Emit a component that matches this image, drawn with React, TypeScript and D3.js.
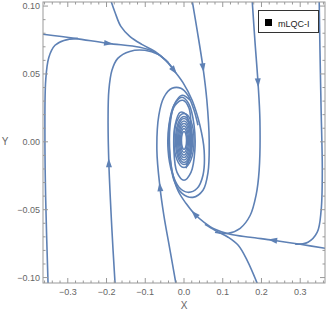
import React from 'react';
import * as d3 from 'd3';

type Pt = [number, number];

// streamlines traced from the phase portrait (x, y in data units)
const streamA: Pt[] = [
  [-0.364, 0.0792], [-0.282, 0.0762], [-0.196, 0.0725], [-0.114, 0.0696], [-0.075, 0.0659],
  [-0.047, 0.06], [-0.026, 0.0527], [-0.003, 0.0438], [0.021, 0.0306], [0.041, 0.0122],
  [0.052, -0.0063], [0.049, -0.0246], [0.034, -0.0342], [0.01, -0.0372], [-0.013, -0.0335],
  [-0.031, -0.0225], [-0.041, -0.0063], [-0.039, 0.0122], [-0.026, 0.0269], [-0.005, 0.0328],
  [0.013, 0.0276], [0.026, 0.0122], [0.028, -0.0063], [0.018, -0.0225], [0, -0.0283],
  [-0.018, -0.0225], [-0.026, -0.0063], [-0.023, 0.0122], [-0.01, 0.0217], [0.005, 0.0203],
  [0.016, 0.0085], [0.016, -0.0099], [0.005, -0.0195]
];
const streamB: Pt[] = [
  [-0.189, 0.1042], [-0.178, 0.0953], [-0.163, 0.085], [-0.14, 0.0777], [-0.109, 0.0718],
  [-0.075, 0.0666], [-0.047, 0.06], [-0.031, 0.0549]
];
const streamH: Pt[] = [
  [-0.178, -0.1042], [-0.186, -0.0652], [-0.194, -0.0158], [-0.196, 0.0158], [-0.194, 0.0379],
  [-0.186, 0.0527], [-0.171, 0.0615], [-0.14, 0.0666], [-0.101, 0.0674], [-0.067, 0.0644],
  [-0.041, 0.0585]
];
const streamI: Pt[] = [
  [-0.351, -0.1042], [-0.357, -0.0431], [-0.359, 0.0011], [-0.357, 0.0453], [-0.349, 0.0622],
  [-0.333, 0.0711], [-0.31, 0.0747], [-0.274, 0.0762]
];
const streamC: Pt[] = [
  [0.021, 0.1042], [0.034, 0.0821], [0.049, 0.0549], [0.059, 0.0306], [0.065, 0.0011],
  [0.062, -0.0225], [0.049, -0.0357], [0.023, -0.0409], [-0.005, -0.0379], [-0.026, -0.0283],
  [-0.036, -0.0099], [-0.036, 0.0122], [-0.026, 0.0269], [-0.005, 0.0343], [0.016, 0.0306]
];
const streamK: Pt[] = [
  [-0.021, -0.1042], [-0.036, -0.0799], [-0.052, -0.0541], [-0.062, -0.0335], [-0.07, -0.0063],
  [-0.065, 0.0195], [-0.052, 0.0328], [-0.031, 0.0394], [-0.008, 0.0394], [0.01, 0.0343],
  [0.026, 0.0232], [0.036, 0.0122]
];
const streamF: Pt[] = [
  [0.364, -0.0784], [0.3, -0.0755], [0.23, -0.0725], [0.171, -0.0703], [0.119, -0.0681],
  [0.08, -0.0644], [0.052, -0.0593], [0.028, -0.0534], [0.005, -0.0453], [-0.016, -0.0357],
  [-0.031, -0.021], [-0.039, -0.0026], [-0.036, 0.0158], [-0.023, 0.0269], [-0.003, 0.0306],
  [0.013, 0.0247], [0.018, 0.0085], [0.016, -0.0099], [0.005, -0.0173]
];
const streamE: Pt[] = [
  [0.349, 0.1042], [0.351, 0.0674], [0.354, 0.0232], [0.357, -0.021], [0.354, -0.0505],
  [0.344, -0.0666], [0.32, -0.074], [0.287, -0.0755]
];
const streamD: Pt[] = [
  [0.176, 0.1042], [0.183, 0.0747], [0.191, 0.0438], [0.196, 0.0158], [0.194, -0.021],
  [0.186, -0.0394], [0.171, -0.0541], [0.145, -0.0637], [0.114, -0.0674], [0.08, -0.0666]
];
const streamG: Pt[] = [
  [0.189, -0.1042], [0.163, -0.0873], [0.14, -0.0762], [0.114, -0.0703], [0.08, -0.0652],
  [0.054, -0.0608]
];

const streams = [streamA, streamB, streamH, streamI, streamC, streamK, streamF, streamE, streamD, streamG];

// [stream, point index] where an arrow head sits
const arrowSpots: [number, number][] = [
  [0, 2], [0, 6], [2, 2], [4, 2], [5, 3], [6, 2], [6, 7], [8, 2]
];

// tight cycles around the focus: [half width, half height]
const centerRings: Pt[] = [
  [0.0065, 0.0066], [0.009, 0.0088], [0.0116, 0.0107], [0.0142, 0.0125],
  [0.0168, 0.0144], [0.0194, 0.0162], [0.022, 0.0177], [0.0258, 0.0199]
];

const xTicks = [-0.3, -0.2, -0.1, 0, 0.1, 0.2, 0.3];
const xLabels = ['\u22120.3', '\u22120.2', '\u22120.1', '0.0', '0.1', '0.2', '0.3'];
const yTicks = [-0.1, -0.05, 0, 0.05, 0.1];
const yLabels = ['\u22120.10', '\u22120.05', '0.00', '0.05', '0.10'];

const W = 327, H = 316;
const margin = { top: 2, right: 2, bottom: 33, left: 43 };
const blue = '#5e81b5';
const gray = '#999';
const font = 'Liberation Sans, Arial, sans-serif';

export default function App() {
  const x = d3.scaleLinear().domain([-0.364, 0.364]).range([margin.left, W - margin.right]);
  const y = d3.scaleLinear().domain([-0.104, 0.103]).range([H - margin.bottom, margin.top]);

  const line = d3.line<Pt>()
    .x(d => x(d[0]))
    .y(d => y(d[1]))
    .curve(d3.curveCatmullRom.alpha(0.5));

  const x0 = margin.left, x1 = W - margin.right;
  const y0 = margin.top, y1 = H - margin.bottom;

  const xMinor = d3.range(-0.36, 0.361, 0.02).filter(v => !xTicks.some(t => Math.abs(t - v) < 1e-6));
  const yMinor = d3.range(-0.1, 0.101, 0.01).filter(v => !yTicks.some(t => Math.abs(t - v) < 1e-6));

  const arrows = arrowSpots.map(([s, i]) => {
    const pts = streams[s];
    const p = pts[i], a = pts[i - 1], b = pts[i + 1];
    const px = x(p[0]), py = y(p[1]);
    let dx = x(b[0]) - x(a[0]), dy = y(b[1]) - y(a[1]);
    const len = Math.hypot(dx, dy);
    dx /= len; dy /= len;
    const tip = [px + dx * 5, py + dy * 5];
    const bl = [px - dx * 4 - dy * 3, py - dy * 4 + dx * 3];
    const br = [px - dx * 4 + dy * 3, py - dy * 4 - dx * 3];
    return `${tip[0]},${tip[1]} ${bl[0]},${bl[1]} ${br[0]},${br[1]}`;
  });

  return (
    <svg width={W} height={H} style={{ position: 'absolute', left: 0, top: 0, background: '#fff' }}>
      <defs>
        <clipPath id="plotArea">
          <rect x={x0} y={y0} width={x1 - x0} height={y1 - y0} />
        </clipPath>
      </defs>

      <g clipPath="url(#plotArea)">
        {centerRings.map((r, i) => (
          <ellipse key={i} cx={x(0)} cy={y(0.001)}
            rx={x(r[0]) - x(0)} ry={y(0) - y(r[1])}
            fill="none" stroke={blue} strokeWidth={1.5} />
        ))}
        {streams.map((s, i) => (
          <path key={i} d={line(s) || ''} fill="none" stroke={blue} strokeWidth={1.6} />
        ))}
        {arrows.map((p, i) => (
          <polygon key={i} points={p} fill={blue} />
        ))}
      </g>

      {/* frame */}
      <rect x={x0} y={y0} width={x1 - x0} height={y1 - y0} fill="none" stroke={gray} strokeWidth={1} />

      {xTicks.map(t => (
        <g key={'x' + t}>
          <line x1={x(t)} x2={x(t)} y1={y1} y2={y1 - 5} stroke={gray} />
          <line x1={x(t)} x2={x(t)} y1={y0} y2={y0 + 5} stroke={gray} />
        </g>
      ))}
      {xMinor.map(t => (
        <g key={'xm' + t}>
          <line x1={x(t)} x2={x(t)} y1={y1} y2={y1 - 2.5} stroke={gray} />
          <line x1={x(t)} x2={x(t)} y1={y0} y2={y0 + 2.5} stroke={gray} />
        </g>
      ))}
      {yTicks.map(t => (
        <g key={'y' + t}>
          <line x1={x0} x2={x0 + 5} y1={y(t)} y2={y(t)} stroke={gray} />
          <line x1={x1} x2={x1 - 5} y1={y(t)} y2={y(t)} stroke={gray} />
        </g>
      ))}
      {yMinor.map(t => (
        <g key={'ym' + t}>
          <line x1={x0} x2={x0 + 2.5} y1={y(t)} y2={y(t)} stroke={gray} />
          <line x1={x1} x2={x1 - 2.5} y1={y(t)} y2={y(t)} stroke={gray} />
        </g>
      ))}

      {xTicks.map((t, i) => (
        <text key={'xl' + t} x={x(t)} y={y1 + 12} textAnchor="middle"
          fontFamily={font} fontSize={9} fill="#666">{xLabels[i]}</text>
      ))}
      {yTicks.map((t, i) => (
        <text key={'yl' + t} x={x0 - 3} y={y(t) + 3} textAnchor="end"
          fontFamily={font} fontSize={9} fill="#666">{yLabels[i]}</text>
      ))}

      <text x={(x0 + x1) / 2} y={y1 + 26} textAnchor="middle" fontFamily={font} fontSize={10} fill="#666">X</text>
      <text x={5} y={y(0) + 3} textAnchor="middle" fontFamily={font} fontSize={10} fill="#666">Y</text>

      {/* legend */}
      <rect x={258.5} y={10.5} width={60} height={22} fill="#fff" stroke="#333" strokeWidth={1} />
      <rect x={265} y={19} width={7} height={7} fill="#000" />
      <text x={278} y={26.5} fontFamily={font} fontSize={9} fill="#222">mLQC-I</text>
    </svg>
  );
}
